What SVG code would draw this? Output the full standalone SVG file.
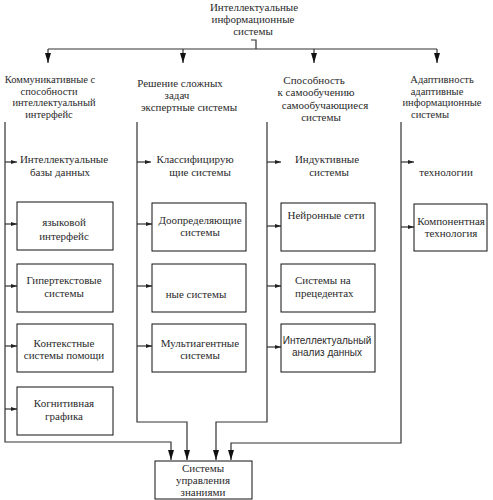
<svg xmlns="http://www.w3.org/2000/svg" width="493" height="500" viewBox="0 0 493 500">
<style>
.t{font-family:"Liberation Serif","Times New Roman",serif;font-size:11px;fill:#2a2a2a;text-anchor:middle}
.h{font-size:10.5px}
.tl{text-anchor:start}
.s{font-family:"Liberation Sans",Arial,sans-serif;font-size:10px;fill:#2a2a2a;text-anchor:middle}
.box{fill:#fff;stroke:#111;stroke-width:1}
.ln{fill:none;stroke:#333;stroke-width:1.2}
.ad{marker-end:url(#ah)}
.as{marker-end:url(#sa)}
</style>
<defs>
<marker id="ah" viewBox="0 0 10 6" refX="10" refY="3" markerWidth="10" markerHeight="6" markerUnits="userSpaceOnUse" orient="auto"><path d="M0,0 L10,3 L0,6 z" fill="#111"/></marker>
<marker id="sa" viewBox="0 0 6 4" refX="6" refY="2" markerWidth="6" markerHeight="4" markerUnits="userSpaceOnUse" orient="auto"><path d="M0,0 L6,2 L0,4 z" fill="#222"/></marker>
</defs>
<g id="connectors">
<path class="ln" d="M251 40 H256 V49"/>
<path class="ln" d="M48 49 H437"/>
<path class="ln ad" d="M48 49 V63"/>
<path class="ln ad" d="M183 49 V63"/>
<path class="ln ad" d="M314 49 V63"/>
<path class="ln ad" d="M437 49 V63"/>
<path class="ln ad" d="M5 122 V442 H171 V460"/>
<path class="ln ad" d="M137 122 V422 H187 V460"/>
<path class="ln ad" d="M267 122 V422 H216 V460"/>
<path class="ln ad" d="M401 122 V443 H231 V460"/>
<path class="ln as" d="M5 162 H17"/>
<path class="ln as" d="M5 224 H17"/>
<path class="ln as" d="M5 286 H17"/>
<path class="ln as" d="M5 346 H17"/>
<path class="ln as" d="M5 409 H17"/>
<path class="ln as" d="M137 162 H151"/>
<path class="ln as" d="M137 224 H152"/>
<path class="ln as" d="M137 286 H152"/>
<path class="ln as" d="M137 346 H152"/>
<path class="ln as" d="M267 162 H281"/>
<path class="ln as" d="M267 226 H281"/>
<path class="ln as" d="M267 286 H281"/>
<path class="ln as" d="M267 347 H281"/>
<path class="ln as" d="M401 162 H414"/>
<path class="ln as" d="M401 227 H414"/>
</g>
<g id="title"><text class="t" x="254" y="11">Интеллектуальные</text><text class="t" x="253" y="23">информационные</text><text class="t" x="253" y="35">системы</text></g>
<g id="h1"><text class="t h" x="50" y="83">Коммуникативные с</text><text class="t h" x="49" y="94.5">способности</text><text class="t h" x="54" y="106">интеллектуальный</text><text class="t h" x="49" y="117.5">интерфейс</text></g>
<g id="h2"><text class="t" x="180" y="87">Решение сложных</text><text class="t" x="177" y="99">задач</text><text class="t" x="189" y="111">экспертные системы</text></g>
<g id="h3"><text class="t" x="314" y="84">Способность</text><text class="t" x="316" y="96">к самообучению</text><text class="t" x="325" y="108.5">самообучающиеся</text><text class="t" x="321" y="120.5">системы</text></g>
<g id="h4"><text class="t h" x="442" y="83">Адаптивность</text><text class="t h" x="437" y="94.5">адаптивные</text><text class="t h" x="442" y="106">информационные</text><text class="t h" x="430" y="117.5">системы</text></g>
<g id="c1a"><text class="t" x="64" y="163">Интеллектуальные</text><text class="t" x="60" y="176">базы данных</text></g>
<g id="c1b"><rect class="box" x="17" y="202" width="96" height="48"/><text class="t" x="64" y="226">языковой</text><text class="t" x="64" y="240">интерфейс</text></g>
<g id="c1c"><rect class="box" x="17" y="264" width="96" height="48"/><text class="t" x="64" y="284">Гипертекстовые</text><text class="t" x="64" y="297">системы</text></g>
<g id="c1d"><rect class="box" x="17" y="324" width="96" height="48"/><text class="t" x="64" y="347">Контекстные</text><text class="t" x="64" y="359">системы помощи</text></g>
<g id="c1e"><rect class="box" x="17" y="387" width="96" height="48"/><text class="t" x="64" y="407">Когнитивная</text><text class="t" x="64" y="420">графика</text></g>
<g id="c2a"><text class="t" x="195" y="163">Классифицирую</text><text class="t" x="200" y="176">щие системы</text></g>
<g id="c2b"><rect class="box" x="152" y="203" width="94" height="48"/><text class="t" x="200" y="224">Доопределяющие</text><text class="t" x="200" y="236">системы</text></g>
<g id="c2c"><rect class="box" x="152" y="264" width="94" height="48"/><text class="t" x="196" y="298">ные системы</text></g>
<g id="c2d"><rect class="box" x="152" y="324" width="94" height="48"/><text class="t" x="200" y="347">Мультиагентные</text><text class="t" x="200" y="359">системы</text></g>
<g id="c3a"><text class="t" x="327" y="163">Индуктивные</text><text class="t" x="329" y="176">системы</text></g>
<g id="c3b"><rect class="box" x="281" y="203" width="94" height="48"/><text class="t" x="326" y="219">Нейронные сети</text></g>
<g id="c3c"><rect class="box" x="281" y="264" width="94" height="48"/><text class="t tl" x="295" y="284">Системы на</text><text class="t tl" x="295" y="297">прецедентах</text></g>
<g id="c3d"><rect class="box" x="281" y="324" width="94" height="48"/><text class="s" x="327" y="344">Интеллектуальный</text><text class="s" x="327" y="356">анализ данных</text></g>
<g id="c4a"><text class="t" x="446" y="176">технологии</text></g>
<g id="c4b"><rect class="box" x="414" y="204" width="73" height="47"/><text class="t" x="451" y="225">Компонентная</text><text class="t" x="451" y="237">технология</text></g>
<g id="km"><rect class="box" x="155" y="461" width="97" height="38"/><text class="t" x="203" y="472">Системы</text><text class="t" x="203" y="484">управления</text><text class="t" x="203" y="496">знаниями</text></g>
</svg>
